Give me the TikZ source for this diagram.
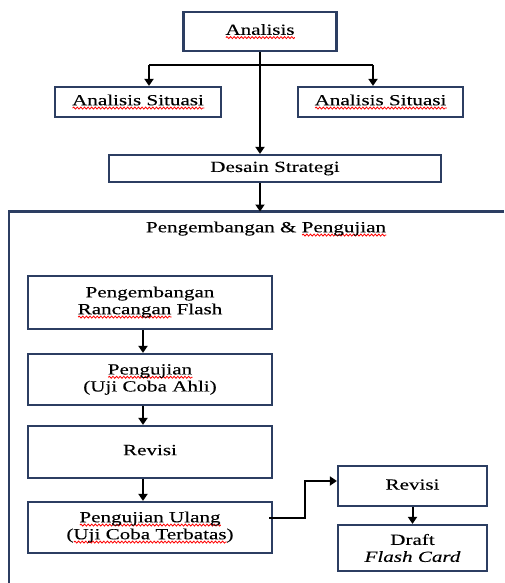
\documentclass[tikz,border=0pt]{standalone}
\usepackage{fontspec}
\setmainfont{Liberation Serif}[FakeStretch=1.36,FakeBold=0.15]
\usetikzlibrary{arrows.meta,decorations.pathmorphing}
\definecolor{navy}{HTML}{2C3E62}
\newsavebox\sqbox
\newcommand\sq[1]{\sbox\sqbox{#1}\rlap{\tikz[baseline=0pt]\draw[red,line width=0.8pt,decorate,decoration={snake,amplitude=1pt,segment length=3.6pt}] (0pt,-2.8pt) -- (\wd\sqbox,-2.8pt);}\usebox\sqbox}
\begin{document}
\begin{tikzpicture}[x=1pt,y=-1pt,
  box/.style={draw=navy,line width=2.2pt,inner sep=0pt,align=center,
    font=\fontsize{15.5}{17}\selectfont},
  lbl/.style={inner sep=0pt,align=center,font=\fontsize{15.5}{17}\selectfont},
  arr/.style={line width=2pt,-{Triangle[width=9pt,length=7pt]}},
  ln/.style={line width=2pt}]
\useasboundingbox (0,0) rectangle (504,583);
% top part
\node[box,minimum width=153pt,minimum height=39pt] (A) at (260,31.5) {\sq{Analisis}};
\node[box,minimum width=166pt,minimum height=30pt] (L) at (138,102) {\sq{Analisis Situasi}};
\node[box,minimum width=165pt,minimum height=30pt] (R) at (380.5,102) {\sq{Analisis Situasi}};
\node[box,minimum width=332pt,minimum height=27pt] (D) at (275,168.5) {\raisebox{-2pt}{Desain Strategi}};
\coordinate (bl) at (149,65);
\coordinate (br) at (373,65);
\draw[ln] (bl) -- (br);
\draw[arr] (bl) -- (bl |- L.north);
\draw[arr] (br) -- (br |- R.north);
\draw[arr] (A.south) -- (A.south |- D.north);
% container
\coordinate (ctl) at (9,211.5);
\coordinate (ctr) at (504,211.5);
\coordinate (cbl) at (9,583);
\draw[draw=navy,line width=2.4pt] (ctr) -- (ctl) -- (cbl);
\coordinate (ctop) at (A.south |- ctl);
\draw[arr] (D.south -| A.south) -- (ctop);
\node[lbl] (T) at (266,229) {Pengembangan \& \sq{Pengujian}};
% inner boxes
\node[box,minimum width=244pt,minimum height=53pt] (B1) at (150,302.5) {Pengembangan\\\sq{Rancangan} Flash};
\node[box,minimum width=244pt,minimum height=51pt] (B2) at (150,379.5) {\sq{Pengujian}\\(Uji Coba Ahli)};
\node[box,minimum width=244pt,minimum height=52pt] (B3) at (150,452) {\raisebox{4pt}{Revisi}};
\node[box,minimum width=244pt,minimum height=51pt] (B4) at (150,527.5) {\sq{Pengujian Ulang}\\(\sq{Uji Coba Terbatas})};
\node[box,minimum width=149pt,minimum height=40pt] (RR) at (412.5,486) {\raisebox{3pt}{Revisi}};
\node[box,minimum width=149pt,minimum height=46pt] (DF) at (412.5,548) {Draft\\\textit{Flash Card}};
\draw[arr] ([xshift=-7pt]B1.south) -- ([xshift=-7pt]B2.north);
\draw[arr] ([xshift=-7pt]B2.south) -- ([xshift=-7pt]B3.north);
\draw[arr] ([xshift=-7pt]B3.south) -- ([xshift=-7pt]B4.north);
\draw[arr] ([xshift=-4pt,yshift=9.5pt]B4.east) -- ++(36,0) |- ([yshift=5pt]RR.west);
\draw[arr] (RR.south) -- (DF.north);
\end{tikzpicture}
\end{document}
